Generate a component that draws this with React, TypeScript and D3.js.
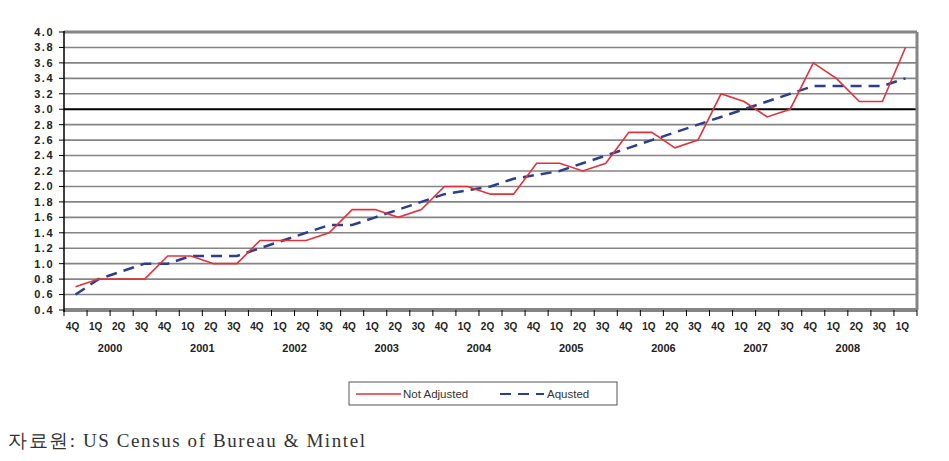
import React from "react";
import * as d3 from "d3";

const quarterLabels: string[] = [
  "4Q", "1Q", "2Q", "3Q", "4Q", "1Q", "2Q", "3Q", "4Q", "1Q", "2Q", "3Q",
  "4Q", "1Q", "2Q", "3Q", "4Q", "1Q", "2Q", "3Q", "4Q", "1Q", "2Q", "3Q",
  "4Q", "1Q", "2Q", "3Q", "4Q", "1Q", "2Q", "3Q", "4Q", "1Q", "2Q", "3Q", "1Q",
];
const yearLabels: string[] = ["2000", "2001", "2002", "2003", "2004", "2005", "2006", "2007", "2008"];

const notAdjusted: number[] = [
  0.7, 0.8, 0.8, 0.8, 1.1, 1.1, 1.0, 1.0, 1.3, 1.3, 1.3, 1.4, 1.7, 1.7, 1.6, 1.7,
  2.0, 2.0, 1.9, 1.9, 2.3, 2.3, 2.2, 2.3, 2.7, 2.7, 2.5, 2.6, 3.2, 3.1, 2.9, 3.0,
  3.6, 3.4, 3.1, 3.1, 3.8,
];
const adjusted: number[] = [
  0.6, 0.8, 0.9, 1.0, 1.0, 1.1, 1.1, 1.1, 1.2, 1.3, 1.4, 1.5, 1.5, 1.6, 1.7, 1.8,
  1.9, 1.95, 2.0, 2.1, 2.15, 2.2, 2.3, 2.4, 2.5, 2.6, 2.7, 2.8, 2.9, 3.0, 3.1, 3.2,
  3.3, 3.3, 3.3, 3.3, 3.4,
];
const yTicks: number[] = d3.range(0.4, 4.001, 0.2).map((v) => Math.round(v * 10) / 10);

const W = 949;
const H = 461;
const left = 64;
const right = 917;
const top = 32;
const bottom = 310;

export default function App() {
  const idx = quarterLabels.map((_, i) => i);
  const x = d3.scaleBand<number>().domain(idx).range([left, right]).paddingInner(0).paddingOuter(0);
  const bw = x.bandwidth();
  const cx = (i: number) => (x(i) as number) + bw / 2;
  const y = d3.scaleLinear().domain([0.4, 4.0]).range([bottom, top]);

  const line = d3
    .line<number>()
    .x((_, i) => cx(i))
    .y((d) => y(d));

  const font = "'Liberation Sans', Arial, sans-serif";

  return (
    <svg
      width={W}
      height={H}
      style={{ position: "absolute", left: 0, top: 0, background: "#fff" }}
    >
      <rect x={0} y={0} width={W} height={H} fill="#fff" />
      {yTicks.map((t) => (
        <line
          key={"g" + t}
          x1={left}
          x2={right}
          y1={y(t)}
          y2={y(t)}
          stroke={t === 3.0 ? "#000" : "#858585"}
          strokeWidth={t === 3.0 ? 2 : t === 4.0 ? 3 : 1.6}
        />
      ))}
      <line x1={right} x2={right} y1={top} y2={bottom} stroke="#858585" strokeWidth={3} />
      <line x1={left} x2={right} y1={bottom} y2={bottom} stroke="#858585" strokeWidth={4} />
      <line x1={left} x2={left} y1={top - 1} y2={bottom + 2} stroke="#000" strokeWidth={1.5} />
      {yTicks.map((t) => (
        <g key={"yt" + t}>
          <line x1={left - 5} x2={left} y1={y(t)} y2={y(t)} stroke="#000" strokeWidth={1} />
          <text
            x={left - 10}
            y={y(t)}
            dy="0.35em"
            textAnchor="end"
            fontFamily={font}
            fontSize={11}
            fontWeight="bold"
            letterSpacing={1.5}
            fill="#222"
          >
            {t.toFixed(1)}
          </text>
        </g>
      ))}
      {d3.range(0, quarterLabels.length + 1).map((i) => (
        <line
          key={"xt" + i}
          x1={left + i * bw}
          x2={left + i * bw}
          y1={bottom}
          y2={bottom + 6}
          stroke="#000"
          strokeWidth={1}
        />
      ))}
      {quarterLabels.map((q, i) => (
        <text
          key={"xl" + i}
          x={cx(i) - 3}
          y={330}
          textAnchor="middle"
          fontFamily={font}
          fontSize={10}
          fontWeight="bold"
          fill="#222"
        >
          {q}
        </text>
      ))}
      {yearLabels.map((yr, k) => (
        <text
          key={"yr" + yr}
          x={left + (k * 4 + 2) * bw}
          y={352}
          textAnchor="middle"
          fontFamily={font}
          fontSize={11}
          fontWeight="bold"
          fill="#222"
        >
          {yr}
        </text>
      ))}
      <path d={line(adjusted) || ""} fill="none" stroke="#2b3f8c" strokeWidth={2.5} strokeDasharray="11,7" />
      <path d={line(notAdjusted) || ""} fill="none" stroke="#e2313b" strokeWidth={1.6} />
      <rect x={349} y={382} width={268} height={23} fill="#fff" stroke="#555" strokeWidth={1} />
      <line x1={356} x2={401} y1={394} y2={394} stroke="#e2313b" strokeWidth={1.6} />
      <text x={403} y={398} fontFamily={font} fontSize={11.5} fill="#333">
        Not Adjusted
      </text>
      <line x1={500} x2={544} y1={394} y2={394} stroke="#2b3f8c" strokeWidth={2} strokeDasharray="11,7" />
      <text x={547} y={398} fontFamily={font} fontSize={11.5} fill="#333">
        Aqusted
      </text>
      <text
        x={8}
        y={447}
        fontFamily="'Liberation Serif', 'Times New Roman', serif"
        fontSize={19}
        textLength={357}
        lengthAdjust="spacing"
        fill="#333"
      >
        자료원: US Census of Bureau &amp; Mintel
      </text>
    </svg>
  );
}
